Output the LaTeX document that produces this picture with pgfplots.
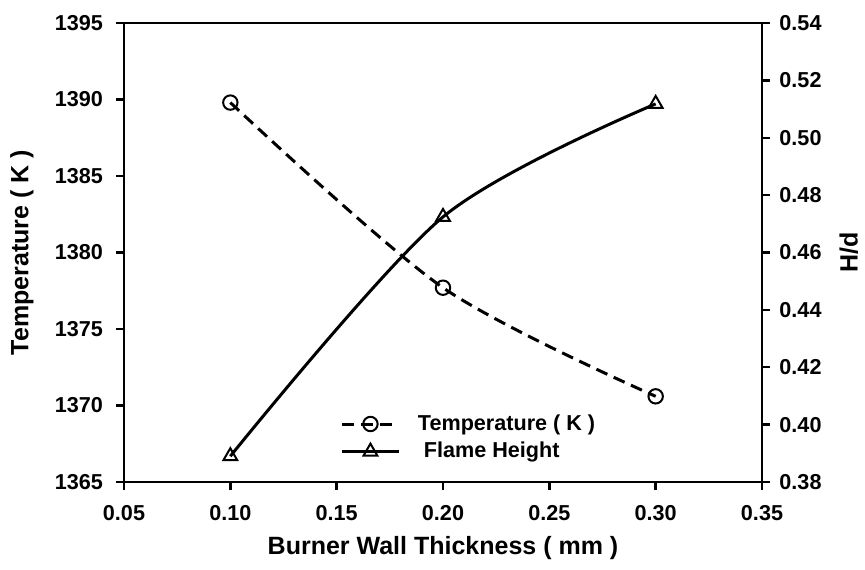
\documentclass[border=0pt]{standalone}
\usepackage{pgfplots}
\pgfplotsset{compat=1.18}
\usepackage{fontspec}
\setmainfont{Liberation Sans}
\begin{document}
\begin{tikzpicture}
\pgfplotsset{
  common/.style={
    width=319pt, height=229.5pt, scale only axis,
    xmin=0.05, xmax=0.35,
    tick align=outside,
    major tick length=4pt,
    axis line style={line width=1.2pt},
    every tick/.style={line width=1.2pt, black},
    tick label style={font=\bfseries\fontsize{10.8}{13}\selectfont},
    label style={font=\bfseries\fontsize{12.5}{15}\selectfont},
    /pgf/number format/assume math mode=true,
  },
}
\begin{axis}[common,
  ymin=1365, ymax=1395,
  xtick={0.05,0.10,0.15,0.20,0.25,0.30,0.35},
  ytick={1365,1370,1375,1380,1385,1390,1395},
  xtick pos=lower, ytick pos=left,
  xticklabel style={yshift=-4pt, /pgf/number format/.cd, fixed, fixed zerofill, precision=2},
  yticklabel style={xshift=-3pt, /pgf/number format/.cd, 1000 sep={}},
  xlabel={Burner Wall Thickness ( mm )},
  ylabel={Temperature ( K )},
  xlabel style={at={(axis description cs:0.5,-0.1438)}, anchor=center},
  ylabel style={at={(axis description cs:-0.16,0.5)}, anchor=center},
]
\addplot[black, line width=1.5pt, dash pattern=on 6pt off 3.5pt, smooth, tension=0.5,
  mark=o, mark size=3.6pt, mark options={solid, line width=1pt}]
  coordinates {(0.1,1389.8) (0.2,1377.7) (0.3,1370.6)};
\coordinate (sw) at (rel axis cs:0,0);
\coordinate (ne) at (rel axis cs:1,1);
\end{axis}
\begin{axis}[common,
  ymin=0.38, ymax=0.54,
  axis x line=none,
  axis y line*=right,
  ytick={0.38,0.40,0.42,0.44,0.46,0.48,0.50,0.52,0.54},
  yticklabel style={xshift=1.2pt, /pgf/number format/.cd, fixed, fixed zerofill, precision=2},
  ylabel={H/d},
  ylabel style={at={(axis description cs:1.136,0.5)}, anchor=center},
  legend style={draw=none, fill=none, at={(0.33,0.165)}, anchor=north west,
    font=\bfseries\fontsize{10.8}{13}\selectfont, row sep=0.5pt,
    /tikz/every odd column/.append style={column sep=7pt}},
  legend cell align=left,
  legend image code/.code={
    \draw[#1, mark repeat=2, mark phase=2] plot coordinates {(0pt,0pt) (14pt,0pt) (28pt,0pt)};},
]
\addlegendimage{black, line width=1.5pt, dash pattern=on 6pt off 3.5pt,
  mark=o, mark size=3.6pt, mark options={solid, line width=1pt}}
\addlegendentry{Temperature ( K )}
\addplot[black, line width=1.5pt, smooth, tension=0.5,
  mark=triangle, mark size=4pt, mark options={solid, line width=1pt}]
  coordinates {(0.1,0.389) (0.2,0.4724) (0.3,0.5118)};
\addlegendentry{\ Flame Height}
\end{axis}
\pgfresetboundingbox
\path ([shift={(-62pt,-43.5pt)}]sw) rectangle ([shift={(51.5pt,11.5pt)}]ne);
\end{tikzpicture}
\end{document}
